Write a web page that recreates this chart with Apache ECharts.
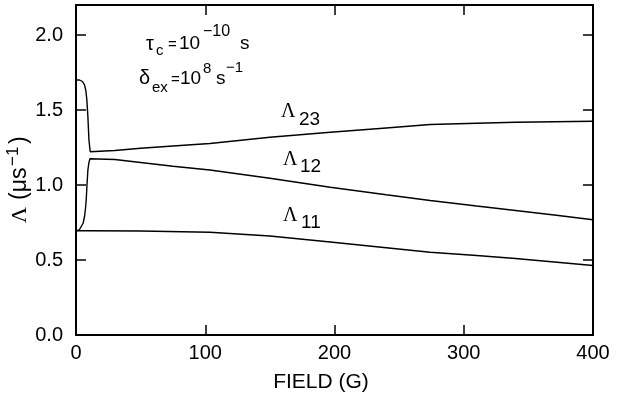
<!DOCTYPE html>
<html>
<head>
<meta charset="utf-8">
<script src="https://cdn.jsdelivr.net/npm/echarts@6/dist/echarts.min.js"></script>
<style>html,body{margin:0;padding:0;background:#fff;}#c{width:619px;height:397px;}</style>
</head>
<body>
<div id="c"></div>
<script>
// ---- data ----
var xTicks = [0, 100, 200, 300, 400];
var yTicks = [0.0, 0.5, 1.0, 1.5, 2.0];

var fieldL23 = [0, 2.7, 5, 6.6, 7.6, 8.4, 9.2, 10.0, 11.0, 11.8, 30, 50, 75, 103.6, 150, 196.7, 240, 274, 310, 340, 370, 400];
var valL23   = [1.70, 1.70, 1.69, 1.667, 1.63, 1.567, 1.456, 1.30, 1.222, 1.215, 1.23, 1.245, 1.26, 1.277, 1.318, 1.352, 1.38, 1.403, 1.412, 1.418, 1.422, 1.425];

var fieldL12 = [0, 0.6, 2.5, 4.0, 5.5, 6.6, 7.3, 7.9, 8.5, 9.2, 10.0, 10.8, 11.8, 30, 50, 75, 103.6, 150, 196.7, 240, 274, 310, 340, 370, 400];
var valL12   = [0.695, 0.695, 0.70, 0.713, 0.745, 0.79, 0.84, 0.9, 1.0, 1.1, 1.15, 1.175, 1.185, 1.17, 1.15, 1.125, 1.10, 1.045, 0.985, 0.935, 0.897, 0.86, 0.83, 0.80, 0.768];

var fieldL11 = [0, 10, 50, 103.6, 150, 196.7, 240, 274, 310, 340, 370, 400];
var valL11   = [0.695, 0.695, 0.693, 0.685, 0.66, 0.62, 0.582, 0.552, 0.53, 0.51, 0.487, 0.463];

function pairs(xs, ys) { return xs.map(function (x, i) { return [x, ys[i]]; }); }

var SANS = '"Liberation Sans", Arial, sans-serif';
var SERIF = '"Liberation Serif", "DejaVu Serif", serif';

function t(x, y, str, size, font, align, vAlign) {
  return { type: 'text', x: x, y: y, z: 100,
    style: { text: str, fill: '#000', font: size + 'px ' + (font || SANS),
      align: align || 'left', verticalAlign: vAlign || 'middle' } };
}

var chart = echarts.init(document.getElementById('c'), null, { renderer: 'canvas' });

var axisLineStyle = { show: true, onZero: false, lineStyle: { color: '#000', width: 2 } };
var tickStyle = { show: true, inside: true, length: 10, lineStyle: { color: '#000', width: 1.5 } };

var option = {
  animation: false,
  backgroundColor: '#fff',
  grid: { left: 76, right: 26, top: 5, bottom: 62, show: false },
  xAxis: [
    { type: 'value', position: 'bottom', min: 0, max: 400, interval: 100,
      axisLine: axisLineStyle, axisTick: tickStyle, splitLine: { show: false },
      axisLabel: { color: '#000', fontSize: 20, fontFamily: SANS, margin: 8,
        formatter: function (v) { return xTicks.indexOf(v) >= 0 ? String(v) : ''; } } },
    { type: 'value', position: 'top', min: 0, max: 400, interval: 100,
      axisLine: axisLineStyle, axisTick: tickStyle, splitLine: { show: false },
      axisLabel: { show: false } }
  ],
  yAxis: [
    { type: 'value', position: 'left', min: 0, max: 2.2, interval: 0.5,
      axisLine: axisLineStyle, axisTick: tickStyle, splitLine: { show: false },
      axisLabel: { color: '#000', fontSize: 20, fontFamily: SANS, margin: 13, showMaxLabel: false,
        formatter: function (v) {
          for (var i = 0; i < yTicks.length; i++) if (Math.abs(yTicks[i] - v) < 1e-6) return yTicks[i].toFixed(1);
          return '';
        } } },
    { type: 'value', position: 'right', min: 0, max: 2.2, interval: 0.5,
      axisLine: axisLineStyle, axisTick: tickStyle, splitLine: { show: false },
      axisLabel: { show: false } }
  ],
  series: [
    { type: 'line', name: 'L23', data: pairs(fieldL23, valL23), showSymbol: false, symbol: 'none',
      lineStyle: { color: '#000', width: 1.4 }, xAxisIndex: 0, yAxisIndex: 0 },
    { type: 'line', name: 'L12', data: pairs(fieldL12, valL12), showSymbol: false, symbol: 'none',
      lineStyle: { color: '#000', width: 1.4 }, xAxisIndex: 0, yAxisIndex: 0 },
    { type: 'line', name: 'L11', data: pairs(fieldL11, valL11), showSymbol: false, symbol: 'none',
      lineStyle: { color: '#000', width: 1.4 }, xAxisIndex: 0, yAxisIndex: 0 }
  ],
  graphic: [
    // x axis title
    t(321, 382, 'FIELD (G)', 21, SANS, 'center', 'middle'),
    // y axis title (rotated, reads bottom to top)
    { type: 'group', x: 20, y: 175, rotation: Math.PI / 2, z: 100, children: [
      { type: 'text', x: -48, y: 0, style: { text: 'Λ', fill: '#000', font: '22px ' + SERIF, align: 'left', verticalAlign: 'middle' } },
      { type: 'text', x: -25, y: 0, style: { text: '(μs', fill: '#000', font: '23px ' + SANS, align: 'left', verticalAlign: 'middle' } },
      { type: 'text', x: 9, y: -7, style: { text: '−1', fill: '#000', font: '17px ' + SANS, align: 'left', verticalAlign: 'middle' } },
      { type: 'text', x: 31, y: 0, style: { text: ')', fill: '#000', font: '23px ' + SANS, align: 'left', verticalAlign: 'middle' } }
    ] },
    // annotation line 1: tau_c = 10^-10 s
    t(146, 44, 'τ', 20, SANS),
    t(156, 51, 'c', 15, SANS),
    t(168, 45, '=', 15, SANS),
    t(179, 44, '10', 19, SANS),
    t(203, 32, '−10', 16, SANS),
    t(240, 44, 's', 19, SANS),
    // annotation line 2: delta_ex = 10^8 s^-1
    t(139, 78, 'δ', 20, SANS),
    t(152, 88, 'ex', 15, SANS),
    t(171, 80, '=', 15, SANS),
    t(180, 79, '10', 19, SANS),
    t(203, 69, '8', 15, SANS),
    t(216, 79, 's', 19, SANS),
    t(226, 68, '−1', 15, SANS),
    // curve labels
    t(281, 112, 'Λ', 20, SERIF),
    t(299, 120, '23', 19, SANS),
    t(283, 160, 'Λ', 20, SERIF),
    t(300, 167, '12', 19, SANS),
    t(283, 216, 'Λ', 20, SERIF),
    t(301, 223, '11', 19, SANS)
  ]
};
chart.setOption(option);
</script>
</body>
</html>
